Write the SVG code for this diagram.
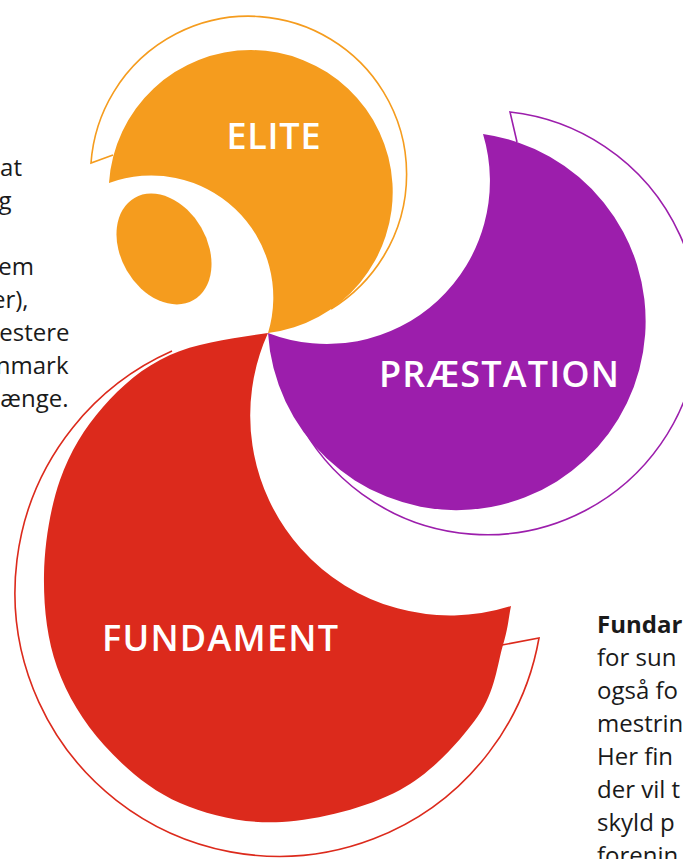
<svg xmlns="http://www.w3.org/2000/svg" width="683" height="859" viewBox="0 0 683 859">
  <style>
    .label { font-family: "Open Sans", "Noto Sans", "Liberation Sans", sans-serif; font-weight: 600; font-size: 36px; fill: #ffffff; }
    .body { font-family: "Open Sans", "Noto Sans", "Liberation Sans", sans-serif; font-size: 24px; fill: #1a1a1a; }
    .ring { fill: none; stroke-width: 1.6; stroke-linejoin: miter; }
    .orange { fill: #F59C1E; }
    .purple { fill: #9C1EAC; }
    .red { fill: #DC2A1C; }
  </style>
  <rect width="683" height="859" fill="#ffffff"/>

  <g id="node-elite">
    <path class="ring" stroke="#F59C1E" d="M113,155 L91,163 A158,158 0 1 1 331,309"/>
    <path class="orange" d="M268,333 A142,142 0 1 0 109,183 A122,122 0 0 1 268,333 Z"/>
    <ellipse class="orange" cx="164" cy="249" rx="43" ry="59" transform="rotate(-30 164 249)"/>
    <text class="label" x="226.5" y="149" textLength="94" lengthAdjust="spacing">ELITE</text>
  </g>

  <g id="node-praestation">
    <path class="ring" stroke="#9C1EAC" d="M517,142 L510,112 A212,212 0 1 1 297,417"/>
    <path class="purple" d="M268,333 A189,189 0 1 0 483,134 A163,163 0 0 1 268,333 Z"/>
    <text class="label" x="379" y="387" textLength="240" lengthAdjust="spacing">PRÆSTATION</text>
  </g>

  <g id="node-fundament">
    <path class="ring" stroke="#DC2A1C" d="M502,645 L539,638 A264,264 0 1 1 172,351"/>
    <path class="red" d="M268,333 C235,338 197.5,342.7 170,355 C142.5,367.3 121.3,386.2 103,407 C84.7,427.8 69.8,452 60,480 C50.2,508 44.5,543.8 44,575 C43.5,606.2 47,638.7 57,667 C67,695.3 83.5,722.3 104,745 C124.5,767.7 150.3,790.2 180,803 C209.7,815.8 245.3,824.2 282,822 C318.7,819.8 367.3,807.7 400,790 C432.7,772.3 460.8,740.2 478,716 C495.2,691.8 497.5,663.3 503,645 C508.5,626.7 508.3,619 511,606 A200,200 0 0 1 268,333 Z"/>
    <text class="label" x="102" y="651" textLength="236" lengthAdjust="spacing">FUNDAMENT</text>
  </g>

  <g id="text-left" class="body" text-anchor="end">
    <text x="22" y="176">at</text>
    <text x="11.5" y="209">g</text>
    <text x="34" y="275">em</text>
    <text x="28.5" y="308">er),</text>
    <text x="69.5" y="341">estere</text>
    <text x="68.5" y="374">nmark</text>
    <text x="68.5" y="407">ænge.</text>
  </g>

  <g id="text-right" class="body">
    <text x="597" y="633" font-weight="700">Fundar</text>
    <text x="597" y="666">for sun</text>
    <text x="597" y="699">også fo</text>
    <text x="597" y="732">mestrin</text>
    <text x="597" y="765">Her fin</text>
    <text x="597" y="798">der vil t</text>
    <text x="597" y="831">skyld p</text>
    <text x="597" y="864">forenin</text>
  </g>
</svg>
